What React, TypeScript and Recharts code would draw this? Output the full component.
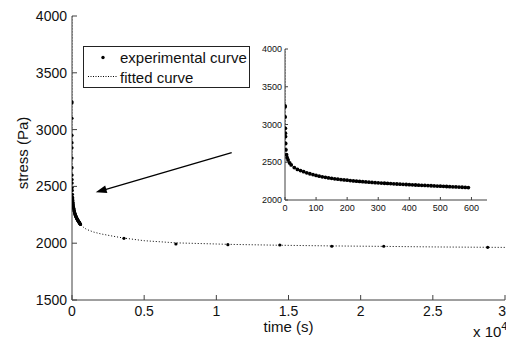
import React from 'react';
import { ComposedChart, Line, Scatter, XAxis, YAxis, Legend, ReferenceLine, Label } from 'recharts';

// ---------- data ----------
const expTime = [0, 0.3, 0.6, 1, 1.3, 1.6, 2, 3, 5, 7, 10, 15, 20, 30, 40, 50, 60, 70, 80, 90,
  100, 110, 120, 130, 140, 150, 160, 170, 180, 190, 200, 210, 220, 230, 240, 250, 260, 270, 280, 290,
  300, 310, 320, 330, 340, 350, 360, 370, 380, 390, 400, 410, 420, 430, 440, 450, 460, 470, 480, 490,
  500, 510, 520, 530, 540, 550, 560, 570, 580, 590];
const expStress = [3245, 3235, 3100, 2950, 2885, 2840, 2750, 2665, 2600, 2560, 2530, 2490, 2465, 2430, 2405, 2390, 2375, 2360, 2348, 2337,
  2325, 2316, 2307, 2300, 2293, 2287, 2281, 2276, 2271, 2266, 2262, 2257, 2253, 2249, 2246, 2243, 2239, 2236, 2233, 2230,
  2227, 2224, 2222, 2219, 2217, 2214, 2212, 2210, 2207, 2205, 2203, 2201, 2199, 2197, 2195, 2193, 2191, 2189, 2187, 2185,
  2183, 2181, 2179, 2177, 2175, 2173, 2171, 2169, 2167, 2165];
const longTime = [3600, 7200, 10800, 14400, 18000, 21600, 28800];
const longStress = [2043, 1993, 1987, 1984, 1973, 1973, 1964];
const fitTime = [0.01, 0.1, 0.5, 1, 2, 3, 5, 10, 20, 30, 50, 75, 100, 150, 200, 300, 400, 500, 590, 800,
  1000, 1500, 2000, 3000, 3600, 5000, 7200, 10000, 10800, 14400, 18000, 21600, 25200, 28800, 30000];
const fitStress = [5000, 3800, 3150, 2950, 2780, 2700, 2610, 2525, 2465, 2430, 2390, 2352, 2325, 2288, 2262, 2227, 2203, 2183, 2165, 2140,
  2122, 2098, 2082, 2058, 2045, 2022, 2003, 1993, 1990, 1982, 1976, 1972, 1967, 1964, 1963];

const mainXTicks = [0, 5000, 10000, 15000, 20000, 25000, 30000];
const mainXTickLabels = ['0', '0.5', '1', '1.5', '2', '2.5', '3'];
const mainYTicks = [1500, 2000, 2500, 3000, 3500, 4000];
const insetXTicks = [0, 100, 200, 300, 400, 500, 600];
const insetYTicks = [2000, 2500, 3000, 3500, 4000];

const arrowFrom = { t: 11065, s: 2797 };
const arrowTo = { t: 1642, s: 2448 };

const expData = expTime.map((t, i) => ({ t, s: expStress[i] }));
const mainExpData = [...expData, ...longTime.map((t, i) => ({ t, s: longStress[i] }))];
const fitData = fitTime.map((t, i) => ({ t, s: fitStress[i] }));
const insetFitData = fitData.filter((d) => d.t <= 590);

const FONT = '"Liberation Sans", Arial, Helvetica, sans-serif';
const AXIS = '#404040';

type Side = 'bottom' | 'top' | 'left' | 'right';
function makeTick(side: Side, len: number, fontSize: number, gap: number, fmt: ((v: number) => string) | null, lastEnd = false) {
  return (props: any) => {
    const { x, y, payload, index, visibleTicksCount } = props;
    let l: any;
    let txt: any = null;
    if (side === 'bottom') {
      l = <line x1={x} y1={y} x2={x} y2={y - len} stroke={AXIS} />;
      const isLast = lastEnd && index === visibleTicksCount - 1;
      if (fmt) txt = <text x={isLast ? x + 1 : x} y={y + gap} textAnchor={isLast ? 'end' : 'middle'} fontSize={fontSize} fontFamily={FONT} fill="#111">{fmt(payload.value)}</text>;
    } else if (side === 'top') {
      l = <line x1={x} y1={y} x2={x} y2={y + len} stroke={AXIS} />;
    } else if (side === 'left') {
      l = <line x1={x} y1={y} x2={x + len} y2={y} stroke={AXIS} />;
      if (fmt) txt = <text x={x - gap} y={y} dy="0.36em" textAnchor="end" fontSize={fontSize} fontFamily={FONT} fill="#111">{fmt(payload.value)}</text>;
    } else {
      l = <line x1={x} y1={y} x2={x - len} y2={y} stroke={AXIS} />;
    }
    return <g>{l}{txt}</g>;
  };
}

const ArrowShape = (p: any) => {
  const { x1, y1, x2, y2 } = p;
  const ang = Math.atan2(y2 - y1, x2 - x1);
  const L = 11, W = 3.8;
  const bx = x2 - L * Math.cos(ang), by = y2 - L * Math.sin(ang);
  const px = -Math.sin(ang) * W, py = Math.cos(ang) * W;
  return (
    <g>
      <line x1={x1} y1={y1} x2={bx + 2 * Math.cos(ang)} y2={by + 2 * Math.sin(ang)} stroke="#000" strokeWidth={1.3} />
      <polygon points={`${x2},${y2} ${bx + px},${by + py} ${bx - px},${by - py}`} fill="#000" />
    </g>
  );
};

const renderLegend = () => (
  <div style={{ width: 167, height: 42, border: '1px solid #222', background: '#fff', boxSizing: 'border-box', position: 'relative' }}>
    <svg width={167} height={42} style={{ position: 'absolute', left: -1, top: -1 }}>
      <circle cx={20} cy={11.5} r={1.7} fill="#000" />
      <line x1={5} x2={35} y1={30.5} y2={30.5} stroke="#000" strokeDasharray="1 1.5" />
      <text x={37} y={17} fontSize={15} fontFamily={FONT} fill="#111">experimental curve</text>
      <text x={37} y={37} fontSize={15} fontFamily={FONT} fill="#111">fitted curve</text>
    </svg>
  </div>
);

const mainDot = (p: any) => <circle cx={p.cx} cy={p.cy} r={1.6} fill="#000" />;
const insetDot = (p: any) => <circle cx={p.cx} cy={p.cy} r={1.9} fill="#000" />;

export default function App() {
  return (
    <div style={{ position: 'absolute', left: 0, top: 0, width: 506, height: 340, background: '#fff', overflow: 'hidden' }}>
      <div style={{ position: 'absolute', left: 0, top: 0 }}>
        <ComposedChart width={506} height={340} margin={{ top: 16, right: 1, bottom: 0, left: 0 }}>
          <XAxis dataKey="t" type="number" domain={[0, 30000]} ticks={mainXTicks} interval={0} allowDataOverflow
            height={40} tickSize={0} tickMargin={0} tickLine={false} axisLine={{ stroke: AXIS }}
            tick={makeTick('bottom', 5, 14, 16, (v) => mainXTickLabels[mainXTicks.indexOf(v)], true)}>
            <Label content={(p: any) => {
              const vb = p.viewBox;
              return <text x={vb.x + vb.width / 2} y={vb.y + 32} textAnchor="middle" fontSize={15} fontFamily={FONT} fill="#111">time (s)</text>;
            }} />
            <Label content={(p: any) => {
              const vb = p.viewBox;
              return (
                <text x={vb.x + vb.width - 32} y={vb.y + 37} fontSize={15} fontFamily={FONT} fill="#111">
                  x 10<tspan dy={-7} fontSize={11}>4</tspan>
                </text>
              );
            }} />
          </XAxis>
          <XAxis xAxisId="top" orientation="top" type="number" domain={[0, 30000]} ticks={mainXTicks} interval={0}
            height={0} tickSize={0} tickMargin={0} tickLine={false} axisLine={{ stroke: AXIS }}
            tick={makeTick('top', 5, 14, 0, null)} />
          <YAxis type="number" domain={[1500, 4000]} ticks={mainYTicks} interval={0} allowDataOverflow
            width={72} tickSize={0} tickMargin={0} tickLine={false} axisLine={{ stroke: AXIS }}
            tick={makeTick('left', 5, 14, 5, (v) => String(v))}>
            <Label content={(p: any) => {
              const vb = p.viewBox;
              const cx = vb.x + 23, cy = vb.y + vb.height / 2 - 5;
              return <text x={cx} y={cy} transform={`rotate(-90 ${cx} ${cy})`} dy="0.35em" textAnchor="middle" fontSize={15} fontFamily={FONT} fill="#111">stress (Pa)</text>;
            }} />
          </YAxis>
          <YAxis yAxisId="right" orientation="right" type="number" domain={[1500, 4000]} ticks={mainYTicks} interval={0}
            width={0} tickSize={0} tickMargin={0} tickLine={false} axisLine={{ stroke: AXIS }}
            tick={makeTick('right', 5, 14, 0, null)} />
          <Line data={fitData} dataKey="s" type="linear" stroke="#000" strokeWidth={1} strokeDasharray="1 2"
            dot={false} activeDot={false} isAnimationActive={false} legendType="none" />
          <Scatter data={mainExpData} dataKey="s" shape={mainDot} isAnimationActive={false} />
          <ReferenceLine segment={[{ x: arrowFrom.t, y: arrowFrom.s }, { x: arrowTo.t, y: arrowTo.s }]}
            shape={ArrowShape} ifOverflow="visible" />
          <Legend layout="horizontal" verticalAlign="middle" align="center" content={renderLegend}
            wrapperStyle={{ left: 83, top: 46, width: 167, height: 42 }} />
        </ComposedChart>
      </div>
      <div style={{ position: 'absolute', left: 250, top: 40 }}>
        <ComposedChart width={240} height={180} margin={{ top: 9, right: 3, bottom: 0, left: 0 }}>
          <XAxis dataKey="t" type="number" domain={[0, 650]} ticks={insetXTicks} interval={0} allowDataOverflow
            height={20} tickSize={0} tickMargin={0} tickLine={false} axisLine={{ stroke: AXIS }}
            tick={makeTick('bottom', 3, 9, 10.5, (v) => String(v))} />
          <XAxis xAxisId="top" orientation="top" type="number" domain={[0, 650]} ticks={insetXTicks} interval={0}
            height={0} tickSize={0} tickMargin={0} tickLine={false} axisLine={{ stroke: AXIS }}
            tick={makeTick('top', 3, 9, 0, null)} />
          <YAxis type="number" domain={[2000, 4000]} ticks={insetYTicks} interval={0} allowDataOverflow
            width={35} tickSize={0} tickMargin={0} tickLine={false} axisLine={{ stroke: AXIS }}
            tick={makeTick('left', 3, 9, 3, (v) => String(v))} />
          <YAxis yAxisId="right" orientation="right" type="number" domain={[2000, 4000]} ticks={insetYTicks} interval={0}
            width={0} tickSize={0} tickMargin={0} tickLine={false} axisLine={{ stroke: AXIS }}
            tick={makeTick('right', 3, 9, 0, null)} />
          <Line data={insetFitData} dataKey="s" type="linear" stroke="#000" strokeWidth={1} strokeDasharray="1 2"
            dot={false} activeDot={false} isAnimationActive={false} />
          <Scatter data={expData} dataKey="s" shape={insetDot} isAnimationActive={false} />
        </ComposedChart>
      </div>
    </div>
  );
}
